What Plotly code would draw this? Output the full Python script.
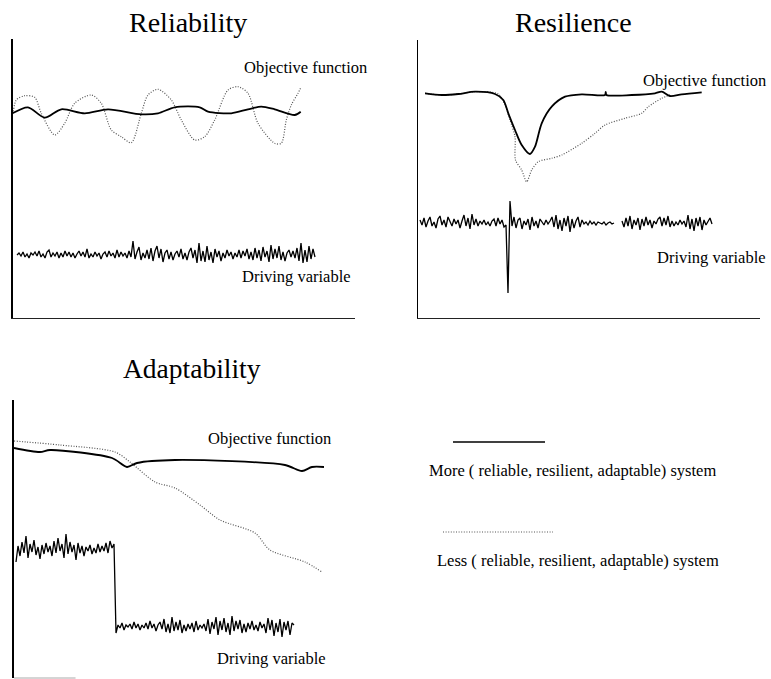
import plotly.graph_objects as go

W, H = 771, 679

# ---------------- Reliability panel data ----------------
rel_more_t = [0, 15, 31.7, 48.3, 71.7, 95, 128.3, 145, 161.7, 186.7, 195, 218.3, 235, 248.3, 261.7, 281.7, 287.7]
rel_more_v = [205, 210.7, 200.3, 208.7, 204.7, 208.7, 203.7, 204.7, 210.7, 210.7, 206.3, 204.7, 208.7, 211.3, 208.7, 203, 206.3]

rel_less_t = [0, 3.3, 11.7, 21.7, 28.3, 41.7, 51.7, 61.7, 78.3, 88.3, 98.3, 108.3, 118.3, 128.3, 135, 145,
              158.3, 168.3, 181.7, 191.7, 201.7, 215, 225, 235, 245, 261.7, 268.3, 273.3, 278.3, 285, 288.3]
rel_less_v = [204, 218, 222.3, 220.7, 204.7, 183, 194.7, 214.7, 223, 214.7, 188, 181.3, 175.3, 204.7, 223, 228.7,
              218, 198, 178, 181.3, 198, 228, 231.3, 224.7, 194.7, 174.7, 174.7, 198, 213, 224.7, 231.3]

rel_drive_v = [63, 65, 62, 66, 61, 64, 60, 65, 63, 66, 62, 67, 61, 64, 60, 66, 68, 61, 65, 62, 66, 60, 65, 61, 67, 62,
               66, 61, 65, 60, 64, 67, 62, 66, 61, 69, 60, 64, 61, 66, 62, 65, 59, 64, 66, 61, 67, 62, 65, 60, 68, 61,
               66, 62, 65, 60, 67,
               61, 77, 59, 66, 71, 58, 65, 60, 68, 59, 70, 57, 67, 72, 60, 69, 56, 65, 68, 59, 66, 58, 64, 67, 61,
               69, 59, 65, 58, 66, 70, 60, 68, 55, 75, 57, 67, 56, 72, 58, 66, 55, 69, 61, 67, 57, 65, 60, 68, 62,
               66, 59, 65, 61, 68, 60, 67, 62, 69, 59, 66, 58, 70, 60, 68, 57, 71, 61, 67, 56, 73, 59, 69, 60, 72,
               58, 66, 57, 65, 68, 61, 67, 60, 70, 57, 75, 55, 68, 56, 72, 59, 69, 61]

# ---------------- Resilience panel data ----------------
res_more_t = [7, 23.7, 40.3, 57, 77, 85.3, 90.3, 97, 103.7, 112, 117, 123.7, 133.7, 147, 163.7, 187, 187.7, 188.5,
              213.7, 237, 243.7, 252, 263.7, 283.7]
res_more_v = [224.7, 223, 224, 226.3, 224, 218, 204.7, 188, 173, 164, 171.3, 194.7, 211.3, 221.3, 223.7, 223, 226, 223,
              223, 224.7, 226.3, 222, 223.7, 225.7]

res_less_t = [7, 23.7, 40.3, 57, 80.3, 87, 92, 97, 97.5, 103.7, 108.7, 113.7, 120.3, 133.7, 143.7, 163.7, 177, 187,
              207, 223.7, 230.3, 243.7, 252]
res_less_v = [224.7, 223, 224, 226.3, 224, 213, 198, 181.3, 158, 148, 136.3, 148, 156.3, 159.7, 163, 174.7, 184.7, 193,
              199.7, 204.7, 211.3, 219.7, 223]

res_drive_v = [98, 93, 100, 91, 97, 101, 92, 96, 90, 99, 102, 93, 98, 91, 101, 97, 92, 99, 94, 98, 90, 97, 103, 92,
               100, 89, 104, 93, 99, 92, 97, 94, 98, 93, 96, 92, 97, 99, 92, 100, 94, 98, 91, 93,
               25, 117,
               92, 101, 90, 98, 100, 89, 97, 93, 99, 88, 101, 92, 97, 90, 99, 96, 93, 98, 94, 97, 101, 91, 103, 89,
               98, 87, 100, 92, 102, 86, 99, 90, 97, 101, 91, 98, 94, 96, 93, 97, 94, 96, 93, 96, 95, 94, 96, 93,
               95, 96, 94, 95,
               None, None, None,
               97, 91, 100, 92, 102, 89, 98, 93, 100, 88, 99, 92, 101, 93, 98, 90, 97, 94, 99, 101, 92, 100, 93,
               102, 91, 97, 92, 96, 93, 98, 94, 97, 91, 103, 89, 99, 87, 100, 92, 101, 88, 98, 93, 96, 100, 94]

# ---------------- Adaptability panel data ----------------
adp_more_t = [0, 26, 36, 98, 113, 123, 161, 271, 288, 298, 310]
adp_more_v = [230, 226, 228, 220, 211, 215, 218, 213, 207, 211, 211]

adp_less_t = [0, 46, 101, 116, 141, 161, 186, 206, 241, 256, 291, 308]
adp_less_v = [237, 233, 226, 216, 196, 190, 173, 158, 145, 128, 116, 106]

adp_drive_v = [116, 132, 122, 136, 125, 142, 120, 134, 126, 138, 123, 131, 119, 133, 124, 135, 126, 132, 122, 137,
               125, 140, 127, 134, 120, 144, 124, 136, 126, 133, 118, 135, 125, 132, 122, 131, 127, 133, 124, 130,
               125, 134, 126, 132, 127, 135, 125, 137, 130, 134,
               45, 53, 50, 55, 48, 53, 51, 54, 49, 56, 50, 54, 48, 53, 50, 55, 49, 57, 50, 54, 47, 53, 56, 49, 59,
               46, 54, 45, 61, 47, 56, 48, 58, 45, 53, 47, 54, 49, 55, 46, 57, 48, 53, 50, 54, 47, 59, 44, 56, 49,
               61, 43, 57, 48, 60, 46, 55, 43, 62, 47, 57, 49, 58, 45, 54, 46, 55, 49, 57, 48, 53, 47, 56, 50, 54,
               45, 60, 48, 58, 42, 55, 46, 59, 41, 56, 48, 57, 43, 55, 53]

titles = ["Reliability", "Resilience", "Adaptability"]
legend_labels = ["More ( reliable, resilient, adaptable) system",
                 "Less ( reliable, resilient, adaptable) system"]

# ---------------- figure ----------------
SERIF = "Liberation Serif"
fig = go.Figure()

MORE = dict(color="black", width=1.8, shape="spline", smoothing=0.8)
LESS = dict(color="#555555", width=1.2, dash="1px,1.6px", shape="spline", smoothing=0.8)
DRIVE = dict(color="black", width=1.3)

def add_panel(ax, more_t, more_v, less_t, less_v, drive_v, drive_t0):
    xa, ya = ("x" + ax, "y" + ax)
    drive_t = [drive_t0 + 2 * i for i in range(len(drive_v))]
    fig.add_trace(go.Scatter(x=less_t, y=less_v, mode="lines", line=LESS, xaxis=xa, yaxis=ya,
                             showlegend=False, hoverinfo="skip"))
    fig.add_trace(go.Scatter(x=more_t, y=more_v, mode="lines", line=MORE, xaxis=xa, yaxis=ya,
                             showlegend=False, hoverinfo="skip"))
    fig.add_trace(go.Scatter(x=drive_t, y=drive_v, mode="lines", line=DRIVE, xaxis=xa, yaxis=ya,
                             connectgaps=False, showlegend=False, hoverinfo="skip"))

add_panel("", rel_more_t, rel_more_v, rel_less_t, rel_less_v, rel_drive_v, 4)
add_panel("2", res_more_t, res_more_v, res_less_t, res_less_v, res_drive_v, 2)
add_panel("3", adp_more_t, adp_more_v, adp_less_t, adp_less_v, adp_drive_v, 2)

def px_dom_x(a, b):
    return [a / W, b / W]

def px_dom_y(top, bottom):
    return [1 - bottom / H, 1 - top / H]

def xax(dom, showline=True, lw=1.2, col="#222"):
    return dict(domain=dom, range=[0, 342], showgrid=False, zeroline=False, showticklabels=False,
                ticks="", showline=showline, linecolor=col, linewidth=lw, fixedrange=True)

def yax(dom, rng, anchor, lw=1.5):
    return dict(domain=dom, range=rng, showgrid=False, zeroline=False, showticklabels=False,
                ticks="", showline=True, linecolor="black", linewidth=lw, anchor=anchor, fixedrange=True)

fig.update_layout(
    width=W, height=H,
    margin=dict(l=0, r=0, t=0, b=0),
    paper_bgcolor="white", plot_bgcolor="white",
    xaxis=dict(xax(px_dom_x(13, 355)), anchor="y"),
    yaxis=yax(px_dom_y(39, 318), [0, 279], "x", 1.6),
    xaxis2=dict(xax(px_dom_x(418, 760)), anchor="y2"),
    yaxis2=yax(px_dom_y(40, 318), [0, 278], "x2", 1.3),
    xaxis3=dict(xax(px_dom_x(14, 356), showline=False), anchor="y3"),
    yaxis3=yax(px_dom_y(400, 678), [0, 278], "x3", 2.4),
    showlegend=False,
)

# short light bottom axis stub in the adaptability panel
fig.add_shape(type="line", xref="x3 domain", yref="y3 domain", x0=0, x1=0.18, y0=0, y1=0,
              line=dict(color="#aaaaaa", width=1))

def ann(text, x, y, size):
    fig.add_annotation(text=text, x=x / W, y=1 - y / H, xref="paper", yref="paper",
                       xanchor="center", yanchor="middle", showarrow=False,
                       font=dict(family=SERIF, size=size, color="black"))

ann(titles[0], 188, 23, 28)
ann(titles[1], 573, 23, 28)
ann(titles[2], 192, 368, 27.5)

ann("Objective function", 305, 68, 16.5)
ann("Driving variable", 296, 276, 16.5)
ann("Objective function", 704, 80, 16.5)
ann("Driving variable", 711, 257, 16.5)
ann("Objective function", 269, 438, 16.5)
ann("Driving variable", 271, 658, 16.5)

ann(legend_labels[0], 572, 470, 16.5)
ann(legend_labels[1], 578, 560, 16.5)

# legend keys
fig.add_shape(type="line", xref="paper", yref="paper", x0=453 / W, x1=545 / W, y0=1 - 442 / H, y1=1 - 442 / H,
              line=dict(color="black", width=1.6))
fig.add_shape(type="line", xref="paper", yref="paper", x0=443 / W, x1=553 / W, y0=1 - 532 / H, y1=1 - 532 / H,
              line=dict(color="#555555", width=1.2, dash="1px,1.6px"))

fig.write_html("out.html", config={"displayModeBar": False, "staticPlot": True},
               post_script="document.body.style.margin='0';document.body.style.overflow='hidden';")
